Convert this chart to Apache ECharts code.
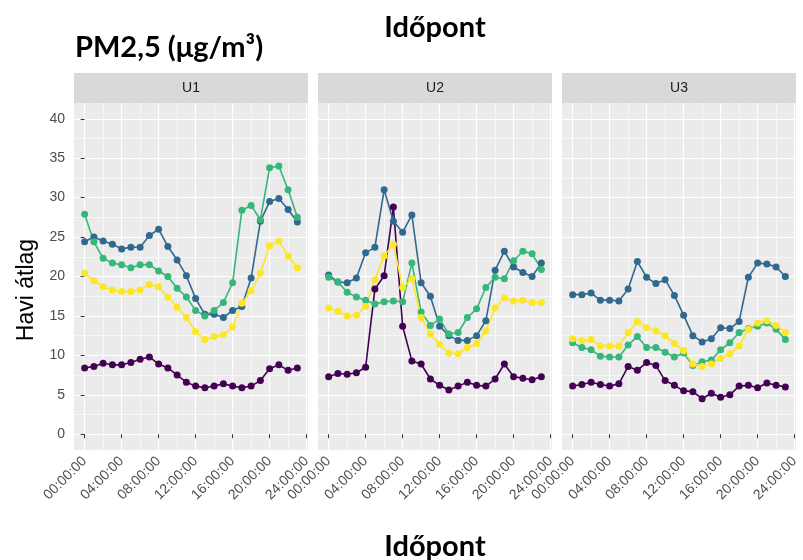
<!DOCTYPE html>
<html>
<head>
<meta charset="utf-8">
<script src="https://cdn.jsdelivr.net/npm/echarts@6/dist/echarts.min.js"></script>
<style>
  html, body { margin: 0; padding: 0; background: #fff; }
  #chart { width: 803px; height: 560px; }
</style>
</head>
<body>
<div id="chart"></div>
<script>
// órák (0..23) és a panelek
const hours = [0, 1, 2, 3, 4, 5, 6, 7, 8, 9, 10, 11, 12, 13, 14, 15, 16, 17, 18, 19, 20, 21, 22, 23]
const panels = ['U1', 'U2', 'U3']
const xTickHours = [0, 4, 8, 12, 16, 20, 24]
const xMinorHours = [2, 6, 10, 14, 18, 22]
const yTicks = [0, 5, 10, 15, 20, 25, 30, 35, 40]
const yMinorTicks = [2.5, 7.5, 12.5, 17.5, 22.5, 27.5, 32.5, 37.5]
const groupColors = ['#440154', '#31688E', '#35B779', '#FDE725']

// U1
const u1Purple = [8.4, 8.6, 9.0, 8.8, 8.8, 9.1, 9.5, 9.8, 8.9, 8.4, 7.5, 6.6, 6.1, 5.9, 6.1, 6.4, 6.1, 5.9, 6.1, 6.8, 8.3, 8.8, 8.1, 8.4]
const u1Blue = [24.4, 25.0, 24.5, 24.1, 23.5, 23.7, 23.7, 25.2, 26.0, 23.8, 22.1, 20.1, 17.2, 15.2, 15.2, 14.8, 15.7, 16.2, 19.8, 27.0, 29.5, 29.9, 28.5, 26.9]
const u1Green = [27.9, 24.4, 22.3, 21.7, 21.5, 21.1, 21.5, 21.5, 20.7, 20.0, 18.5, 17.4, 15.7, 15.0, 15.7, 16.7, 19.2, 28.4, 29.0, 27.2, 33.8, 34.0, 31.0, 27.5]
const u1Yellow = [20.4, 19.5, 18.7, 18.3, 18.1, 18.1, 18.3, 19.0, 18.7, 17.4, 16.1, 14.8, 13.0, 12.0, 12.4, 12.6, 13.6, 16.6, 18.2, 20.4, 23.9, 24.5, 22.6, 21.1]

// U2
const u2Purple = [7.3, 7.7, 7.6, 7.8, 8.5, 18.4, 20.1, 28.8, 13.7, 9.3, 8.9, 7.0, 6.2, 5.6, 6.1, 6.6, 6.2, 6.1, 7.0, 8.9, 7.3, 7.1, 6.9, 7.3]
const u2Blue = [20.2, 19.3, 19.2, 19.8, 23.0, 23.7, 31.0, 27.0, 25.6, 27.8, 19.2, 17.5, 13.7, 12.5, 11.9, 11.9, 12.5, 14.4, 20.8, 23.2, 21.2, 20.5, 20.0, 21.7]
const u2Green = [19.9, 19.3, 18.0, 17.4, 17.0, 16.5, 16.8, 16.9, 16.8, 21.7, 15.5, 13.8, 14.6, 12.7, 12.9, 14.8, 15.9, 18.6, 19.9, 19.7, 22.0, 23.2, 22.9, 20.9]
const u2Yellow = [16.0, 15.6, 15.0, 15.1, 16.2, 19.6, 22.6, 24.1, 18.6, 19.7, 14.8, 12.7, 11.4, 10.3, 10.2, 11.0, 11.5, 13.1, 16.0, 17.3, 16.9, 17.0, 16.7, 16.7]

// U3
const u3Purple = [6.1, 6.3, 6.6, 6.3, 6.1, 6.4, 8.6, 8.1, 9.1, 8.7, 6.8, 6.2, 5.5, 5.4, 4.5, 5.2, 4.7, 5.0, 6.1, 6.2, 5.9, 6.5, 6.2, 6.0]
const u3Blue = [17.7, 17.7, 17.9, 17.0, 17.0, 16.9, 18.4, 21.9, 19.9, 19.1, 19.6, 17.6, 15.1, 12.5, 11.7, 12.1, 13.5, 13.4, 14.3, 19.9, 21.7, 21.6, 21.2, 20.0]
const u3Green = [11.6, 11.0, 10.7, 9.9, 9.8, 9.8, 11.3, 12.4, 11.0, 11.0, 10.4, 9.8, 10.3, 8.7, 9.2, 9.4, 10.7, 11.6, 12.9, 13.4, 13.7, 14.1, 13.3, 12.0]
const u3Yellow = [12.1, 11.9, 12.0, 11.2, 11.2, 11.2, 12.9, 14.3, 13.5, 13.1, 12.5, 11.5, 10.6, 8.9, 8.6, 8.9, 9.6, 10.2, 11.2, 13.3, 14.1, 14.4, 13.8, 12.9]

const panelData = [
  [u1Purple, u1Blue, u1Green, u1Yellow],
  [u2Purple, u2Blue, u2Green, u2Yellow],
  [u3Purple, u3Blue, u3Green, u3Yellow]
]

const chart = echarts.init(document.getElementById('chart'))

const gridLeft = [74, 318, 562]
const gridTop = 103
const gridW = 234
const gridH = 347
const axisFont = 'Liberation Sans, Arial, sans-serif'
const titleFont = 'Lato, Noto Sans, sans-serif'

const pad = n => (n < 10 ? '0' + n : '' + n)

const grids = gridLeft.map(left => ({
  left: left,
  top: gridTop,
  width: gridW,
  height: gridH,
  show: true,
  backgroundColor: '#EBEBEB',
  borderWidth: 0
}))

const xAxes = []
const yAxes = []
panels.forEach((p, i) => {
  // fő rácsvonalak + feliratok
  xAxes.push({
    type: 'value',
    gridIndex: i,
    min: -1.15,
    max: 24.15,
    position: 'bottom',
    axisLine: { show: false },
    axisTick: { show: true, customValues: xTickHours, length: 4, lineStyle: { color: '#333333', width: 1 } },
    axisLabel: {
      customValues: xTickHours,
      rotate: 45,
      margin: 9,
      color: '#4D4D4D',
      fontSize: 14,
      fontFamily: axisFont,
      formatter: v => pad(v) + ':00:00'
    },
    splitLine: { show: true, lineStyle: { color: '#FFFFFF', width: 1.1 } }
  })
  // mellék rácsvonalak
  xAxes.push({
    type: 'value',
    gridIndex: i,
    min: -1.15,
    max: 24.15,
    position: 'top',
    axisLine: { show: false },
    axisTick: { show: false, customValues: xMinorHours },
    axisLabel: { show: false, customValues: xMinorHours },
    splitLine: { show: true, lineStyle: { color: '#FFFFFF', width: 0.6 } }
  })
  yAxes.push({
    type: 'value',
    gridIndex: i,
    min: -2,
    max: 42,
    position: 'left',
    axisLine: { show: false },
    axisTick: { show: i === 0, customValues: yTicks, length: 4, lineStyle: { color: '#333333', width: 1 } },
    axisLabel: {
      show: i === 0,
      customValues: yTicks,
      margin: 9,
      color: '#4D4D4D',
      fontSize: 14,
      fontFamily: axisFont
    },
    splitLine: { show: true, lineStyle: { color: '#FFFFFF', width: 1.1 } }
  })
  yAxes.push({
    type: 'value',
    gridIndex: i,
    min: -2,
    max: 42,
    position: 'right',
    axisLine: { show: false },
    axisTick: { show: false, customValues: yMinorTicks },
    axisLabel: { show: false, customValues: yMinorTicks },
    splitLine: { show: true, lineStyle: { color: '#FFFFFF', width: 0.6 } }
  })
})

// előbb minden vonal, utána a pontok (mint a ggplot-ban)
const series = []
panelData.forEach((groups, i) => {
  groups.forEach((vals, g) => {
    series.push({
      type: 'line',
      xAxisIndex: i * 2,
      yAxisIndex: i * 2,
      data: hours.map((h, k) => [h, vals[k]]),
      showSymbol: false,
      silent: true,
      z: 2,
      lineStyle: { color: groupColors[g], width: 1.6 },
      itemStyle: { color: groupColors[g] }
    })
  })
})
panelData.forEach((groups, i) => {
  groups.forEach((vals, g) => {
    series.push({
      type: 'scatter',
      xAxisIndex: i * 2,
      yAxisIndex: i * 2,
      data: hours.map((h, k) => [h, vals[k]]),
      symbol: 'circle',
      symbolSize: 7,
      z: 3,
      itemStyle: { color: groupColors[g], opacity: 1 }
    })
  })
})

// panelcímkék (szürke sávok)
const graphics = []
panels.forEach((p, i) => {
  graphics.push({
    type: 'rect',
    shape: { x: gridLeft[i], y: 73, width: gridW, height: 30 },
    style: { fill: '#D9D9D9' },
    silent: true
  })
  graphics.push({
    type: 'text',
    x: gridLeft[i] + gridW / 2,
    y: 88,
    style: { text: p, fill: '#1A1A1A', font: '14px ' + axisFont, textAlign: 'center', textVerticalAlign: 'middle' },
    silent: true
  })
})
graphics.push({
  type: 'text',
  x: 75,
  y: 48,
  style: { text: 'PM2,5 (μg/m³)', fill: '#000', font: 'bold 29px ' + titleFont, textAlign: 'left', textVerticalAlign: 'middle' }
})
graphics.push({
  type: 'text',
  x: 435,
  y: 28,
  style: { text: 'Időpont', fill: '#000', font: 'bold 29px ' + titleFont, textAlign: 'center', textVerticalAlign: 'middle' }
})
graphics.push({
  type: 'text',
  x: 435,
  y: 547,
  style: { text: 'Időpont', fill: '#000', font: 'bold 29px ' + titleFont, textAlign: 'center', textVerticalAlign: 'middle' }
})
graphics.push({
  type: 'text',
  x: 27,
  y: 290,
  rotation: Math.PI / 2,
  style: { text: 'Havi átlag', fill: '#000', font: '23px ' + axisFont, textAlign: 'center', textVerticalAlign: 'middle' }
})

chart.setOption({
  animation: false,
  grid: grids,
  xAxis: xAxes,
  yAxis: yAxes,
  series: series,
  graphic: graphics
})
</script>
</body>
</html>
